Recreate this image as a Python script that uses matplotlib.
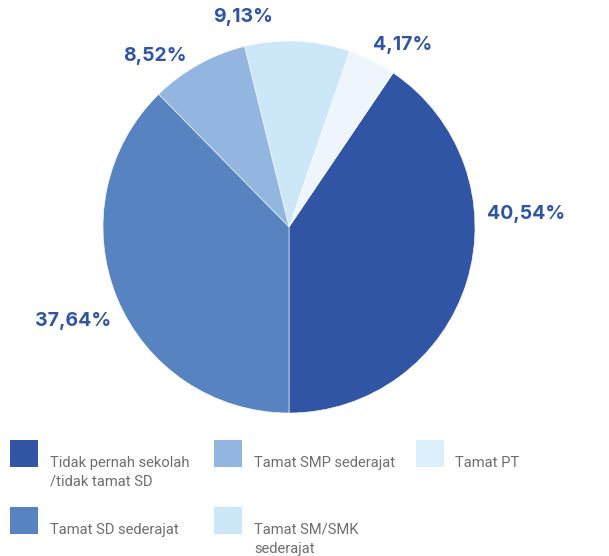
import matplotlib
matplotlib.use('Agg')
import matplotlib.pyplot as plt
from matplotlib.patches import Rectangle

# data (pie order: counter-clockwise from the bottom)
kategori = ['Tidak pernah sekolah\n/tidak tamat SD', 'Tamat PT', 'Tamat SM/SMK\nsederajat',
            'Tamat SMP sederajat', 'Tamat SD sederajat']
persen = [40.54, 4.17, 9.13, 8.52, 37.64]
warna = ['#3055A4', '#EEF5FC', '#CCE7F8', '#93B6E0', '#5784C1']
warna_legenda = {'Tamat PT': '#DDEFFA'}

# legend order (row by row)
urutan_legenda = ['Tidak pernah sekolah\n/tidak tamat SD', 'Tamat SMP sederajat', 'Tamat PT',
                  'Tamat SD sederajat', 'Tamat SM/SMK\nsederajat']

W, H = 609, 556
fig = plt.figure(figsize=(W / 100, H / 100), dpi=100)

# pie centre and radius in pixels
cx, cy, r = 289, 227, 186
ax = fig.add_axes([(cx - r) / W, (H - cy - r) / H, 2 * r / W, 2 * r / H])
ax.pie(persen, colors=warna, startangle=-90, counterclock=True, radius=1,
       wedgeprops=dict(edgecolor='white', linewidth=0.4))
ax.set_xlim(-1, 1)
ax.set_ylim(-1, 1)
ax.set_aspect('equal')
ax.axis('off')

# label positions relative to the pie (in radius units)
posisi_label = [(1.275, 0.07), (0.613, 0.978), (-0.247, 1.13), (-0.72, 0.92), (-1.16, -0.505)]
for p, (lx, ly) in zip(persen, posisi_label):
    ax.text(lx, ly, f"{p:.2f}%".replace('.', ','), ha='center', va='center',
            fontsize=14, fontweight='bold', color='#2F55A4', family='Inter', clip_on=False)

# legend
kolom_x = [10, 214, 416]
teks_dx = [40, 40, 39]
baris_y = [440, 507]
for i, nama in enumerate(urutan_legenda):
    idx = kategori.index(nama)
    c = warna_legenda.get(nama.split('\n')[0], warna[idx])
    kol, bar = i % 3, i // 3
    x0, y0 = kolom_x[kol], baris_y[bar]
    fig.add_artist(Rectangle((x0 / W, 1 - (y0 + 27) / H), 28 / W, 27 / H,
                             transform=fig.transFigure, facecolor=c, edgecolor='none'))
    for j, baris in enumerate(nama.split('\n')):
        fig.text((x0 + teks_dx[kol]) / W, 1 - (y0 + 27 + j * 19) / H, baris,
                 ha='left', va='baseline', fontsize=10.6, color='#6D6E71',
                 family='Roboto', fontweight='normal')

fig.savefig('out.png', dpi=100)
